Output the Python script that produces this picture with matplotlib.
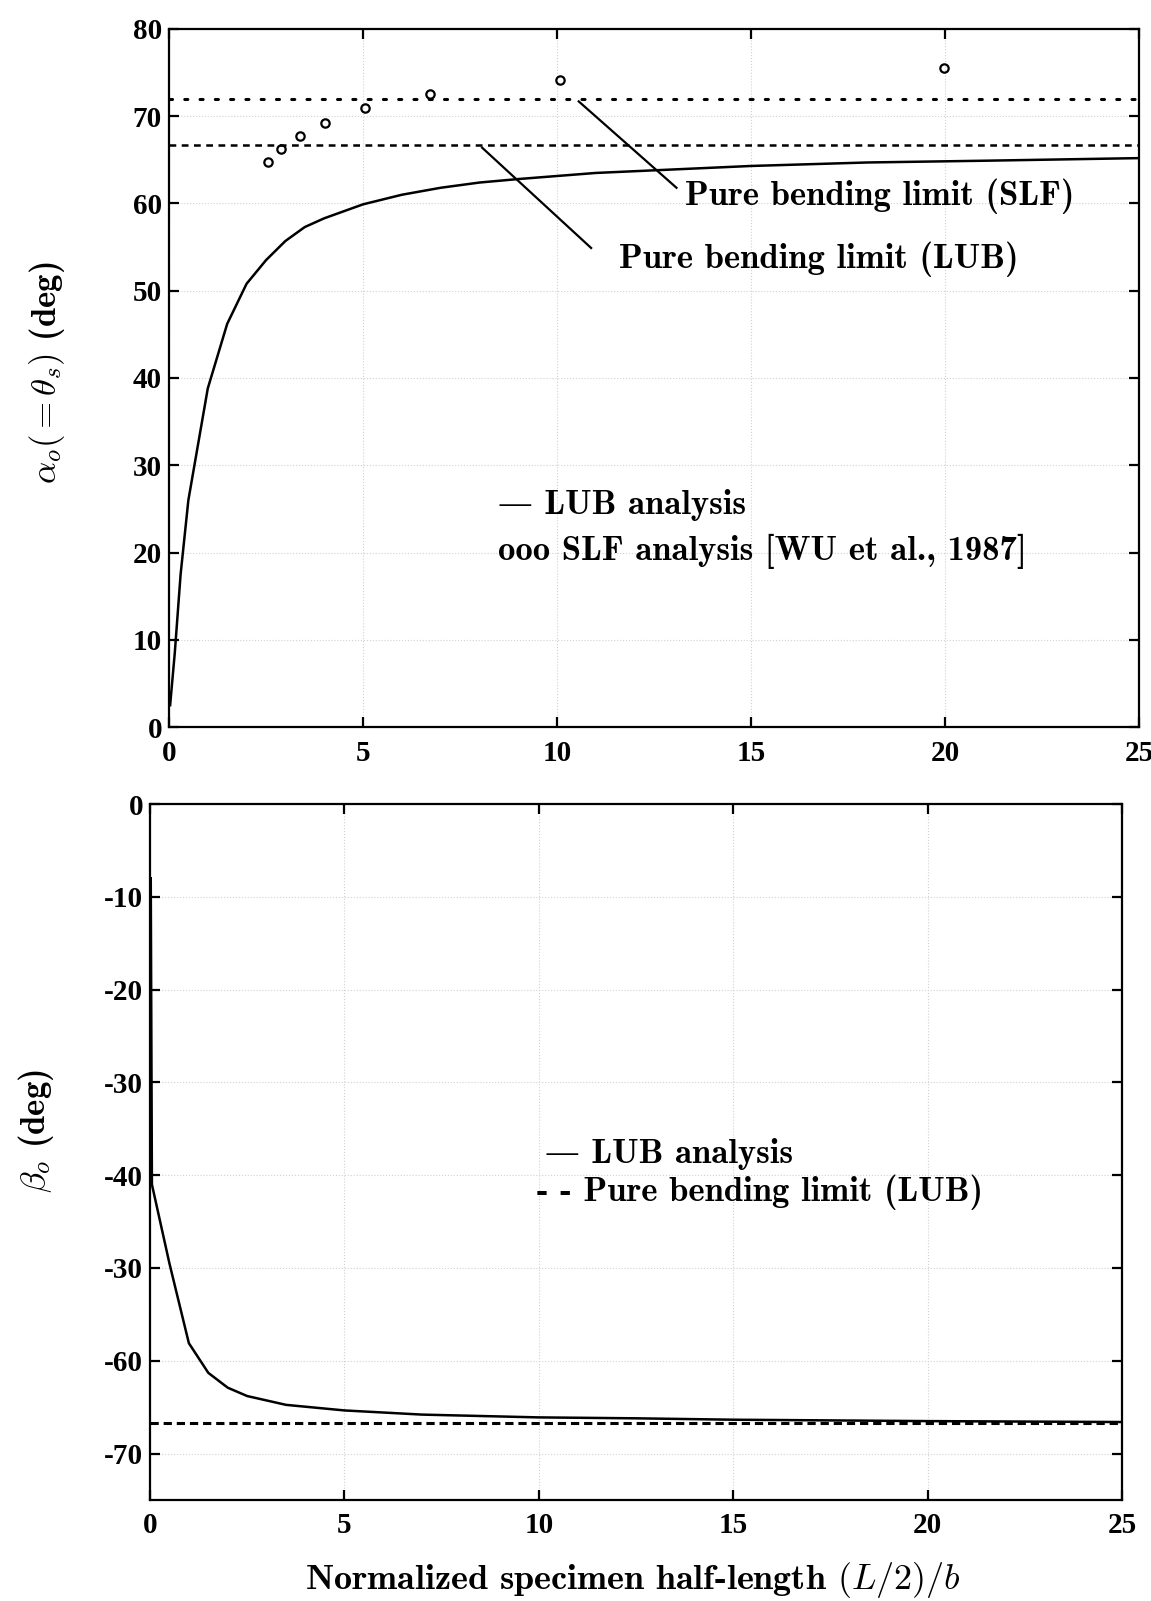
import numpy as np
import matplotlib
matplotlib.use('Agg')
import matplotlib.pyplot as plt

plt.rcParams['mathtext.fontset'] = 'cm'
plt.rcParams['axes.unicode_minus'] = False

# top panel: alpha_o vs normalized half-length
half_len = [0.03, 0.15, 0.3, 0.5, 1.0, 1.5, 2.0, 2.5, 3.0, 3.5, 4.0, 5.0, 6.0,
            7.0, 8.0, 9.0, 11.0, 13.0, 15.0, 18.0, 21.0, 25.0]
alpha_lub = [2.5, 8.5, 17.5, 26.0, 38.8, 46.2, 50.8, 53.5, 55.7, 57.3, 58.3, 59.9,
             61.0, 61.8, 62.4, 62.8, 63.5, 63.9, 64.3, 64.7, 64.9, 65.2]
slf_len = [2.54, 2.88, 3.38, 4.03, 5.04, 6.73, 10.08, 19.97]
alpha_slf = [64.7, 66.3, 67.7, 69.2, 70.9, 72.5, 74.1, 75.5]
alpha_limit_slf = 72.0
alpha_limit_lub = 66.7

# bottom panel: beta_o
beta_len = [0.02, 0.05, 0.5, 1.0, 1.5, 2.0, 2.5, 3.5, 5.0, 7.0, 10.0, 12.5,
            15.0, 20.0, 25.0]
beta_lub = [-8.0, -41.0, -49.5, -58.1, -61.3, -62.9, -63.8, -64.75, -65.35,
            -65.8, -66.1, -66.2, -66.35, -66.5, -66.6]
beta_limit_lub = -66.7

x_ticks = [0, 5, 10, 15, 20, 25]
alpha_ticks = [0, 10, 20, 30, 40, 50, 60, 70, 80]
beta_ticks = [0, -10, -20, -30, -40, -50, -60, -70]
beta_ticklabels = ['0', '-10', '-20', '-30', '-40', '-30', '-60', '-70']

TXT = dict(family=['cmb10', 'DejaVu Serif'], fontsize=25, color='black')
TICKFONT = dict(family='Liberation Serif', weight='bold', size=21)


def style_axes(ax):
    for s in ax.spines.values():
        s.set_linewidth(1.6)
    ax.tick_params(direction='in', length=7, width=1.6, top=True, right=True)
    ax.tick_params(axis='x', pad=9)
    ax.tick_params(axis='y', pad=5)
    ax.grid(True, ls=':', lw=0.8, color='0.82')
    for lab in ax.get_xticklabels() + ax.get_yticklabels():
        lab.set_fontproperties(matplotlib.font_manager.FontProperties(**TICKFONT))


fig = plt.figure(figsize=(11.51, 16.01), dpi=100)

# ---- top ----
ax1 = fig.add_axes([0.1468, 0.5459, 0.8428, 0.4360])
ax1.plot(half_len, alpha_lub, color='black', lw=1.8)
ax1.plot(slf_len, alpha_slf, ls='none', marker='o', ms=6, mfc='none',
         mec='black', mew=1.6)
ax1.axhline(alpha_limit_slf, color='black', lw=2.2, ls=(0, (1, 4)),
            dash_capstyle='round')
ax1.axhline(alpha_limit_lub, color='black', lw=1.8, ls=(0, (2.7, 2.2)))
ax1.set_xlim(0, 25)
ax1.set_ylim(0, 80)
ax1.set_xticks(x_ticks)
ax1.set_yticks(alpha_ticks)
style_axes(ax1)
ax1.set_ylabel(r'$\alpha_o(=\theta_s)$ (deg)', **TXT)
ax1.yaxis.set_label_coords(-0.105, 0.507)

# leader lines to the limit labels
ax1.plot([10.56, 13.08], [71.7, 61.8], color='black', lw=1.6)
ax1.plot([8.07, 10.88], [66.4, 54.9], color='black', lw=1.6)
ax1.text(13.3, 59.8, 'Pure bending limit (SLF)', ha='left', va='baseline', **TXT)
ax1.text(11.6, 52.6, 'Pure bending limit (LUB)', ha='left', va='baseline', **TXT)

ax1.text(8.48, 25.4, '\u2014 LUB analysis', ha='left', va='center', **TXT)
ax1.text(8.48, 20.1, 'ooo SLF analysis [WU et al., 1987]', ha='left',
         va='center', **TXT)

# ---- bottom ----
ax2 = fig.add_axes([0.1303, 0.0631, 0.8445, 0.4347])
ax2.plot(beta_len, beta_lub, color='black', lw=1.8)
ax2.axhline(beta_limit_lub, color='black', lw=2.2, ls=(0, (2.7, 1.6)))
ax2.set_xlim(0, 25)
ax2.set_ylim(-75, 0)
ax2.set_xticks(x_ticks)
ax2.set_yticks(beta_ticks)
ax2.set_yticklabels(beta_ticklabels)
style_axes(ax2)
ax2.set_ylabel(r'$\beta_o$ (deg)', **TXT)
ax2.yaxis.set_label_coords(-0.097, 0.53)

ax2.text(10.15, -37.7, '\u2014 LUB analysis', ha='left', va='center', **TXT)
ax2.text(9.95, -41.8, '- - Pure bending limit (LUB)', ha='left', va='center', **TXT)

fig.text(633 / 1151, 1 - 1580 / 1601,
         r'Normalized specimen half-length $(L/2)/b$',
         ha='center', va='center', family=['cmb10', 'DejaVu Serif'],
         fontsize=26)

fig.savefig('out.png', dpi=100)
